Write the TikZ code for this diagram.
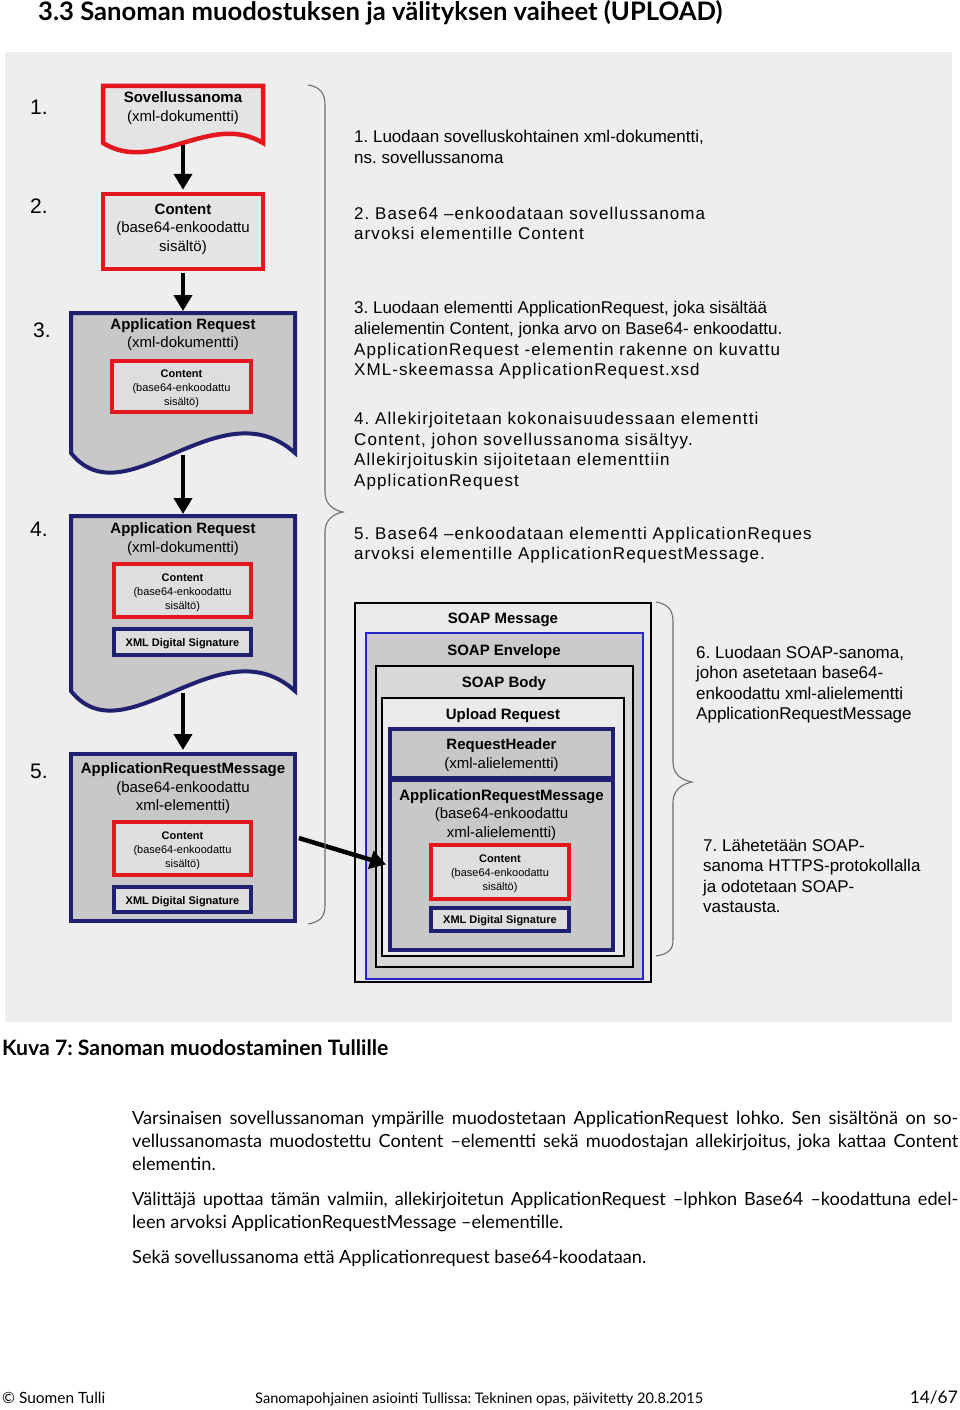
\documentclass[tikz,border=0pt]{standalone}
\usepackage{graphicx}
\usepackage{fontspec}
\setmainfont{Liberation Sans}
\newfontfamily\spaced[LetterSpace=6.3]{Liberation Sans}
\newfontfamily\gill{Lato}
\usetikzlibrary{arrows.meta}
\frenchspacing
\definecolor{myred}{RGB}{228,22,30}
\definecolor{mynavy}{RGB}{32,32,112}
\definecolor{panel}{RGB}{238,238,238}
\definecolor{docfill}{RGB}{228,228,228}
\definecolor{midfill}{RGB}{200,200,200}
\definecolor{innerfill}{RGB}{222,222,222}
\definecolor{bracec}{RGB}{110,110,110}
\definecolor{envblue}{RGB}{40,40,200}
\definecolor{envfill}{RGB}{202,202,202}
\definecolor{bodyfill}{RGB}{216,216,216}
\definecolor{uplfill}{RGB}{234,234,234}
\definecolor{msgfill}{RGB}{234,234,234}
\newcommand\fs[2]{\fontsize{#1}{#2}\selectfont}
\newlength\gillw
\begin{document}
\frenchspacing
\settowidth{\gillw}{\gill\fs{10}{12}Sekä sovellussanoma että Applicationrequest base64-koodataan.}%
\pgfmathsetmacro\gillsize{10*514/\gillw}%
\begin{tikzpicture}[x=1pt,y=-1pt,
  redbox/.style={draw=myred,line width=4.5pt,fill=docfill,inner sep=0pt},
  redinner/.style={draw=myred,line width=4pt,fill=innerfill,inner sep=0pt},
  navydoc/.style={draw=mynavy,line width=4pt,fill=midfill},
  navybox/.style={draw=mynavy,line width=4pt,fill=midfill,inner sep=0pt},
  navysig/.style={draw=mynavy,line width=4pt,fill=innerfill,inner sep=0pt},
  anchorbox/.style={inner sep=0pt,outer sep=0pt},
  flow/.style={line width=4.5pt,-{Triangle[width=18pt,length=16pt]},shorten <=2pt,shorten >=2pt},
  bracepath/.style={draw=bracec,line width=1.1pt},
  big/.style={font=\fs{15}{18.5},align=center,inner sep=0pt},
  small/.style={font=\fs{11}{13.8},align=center,inner sep=0pt},
  num/.style={font=\fs{21}{24},anchor=west,inner sep=0pt},
  desc/.style={font=\fs{17}{20.6},align=left,anchor=west,inner sep=0pt},
  sdesc/.style={desc,font=\spaced\fs{17}{20.6}},
  layer/.style={draw=black,line width=1.2pt,inner sep=0pt},
  para/.style={anchor=base west,inner sep=0pt,font=\gill\fs{\gillsize}{23}},
]
\useasboundingbox (0,0) rectangle (960,1410);
\fill[white] (0,0) rectangle (960,1410);
\fill[panel] (5,52) rectangle (952,1022);

% ---------- left column ----------
\draw[redbox] (103,86) -- (263,86) -- (263,143) .. controls (210,111) and (155,175) .. (103,143) -- cycle;
\node[anchorbox,minimum width=160pt,minimum height=57pt] (b1) at (183,114.5) {};
\node[redbox,minimum width=160pt,minimum height=75pt] (b2) at (183,231.5) {};

\draw[navydoc] (71,313) -- (295,313) -- (295,453) .. controls (220,385) and (125,521) .. (71,453) -- cycle;
\node[anchorbox,minimum width=224pt,minimum height=140pt] (b3) at (183,383) {};
\node[redinner,minimum width=139pt,minimum height=51pt] (c3) at (181.5,386.5) {};

\draw[navydoc] (71,516) -- (295,516) -- (295,691) .. controls (220,623) and (125,759) .. (71,691) -- cycle;
\node[anchorbox,minimum width=224pt,minimum height=175pt] (b4) at (183,603.5) {};
\node[redinner,minimum width=137pt,minimum height=53pt] (c4) at (182.5,590.5) {};
\node[navysig,minimum width=137pt,minimum height=26pt] (s4) at (182.5,642) {};

\node[navybox,minimum width=224pt,minimum height=167pt] (b5) at (183,837.5) {};
\node[redinner,minimum width=137pt,minimum height=53pt] (c5) at (182.5,848.5) {};
\node[navysig,minimum width=137pt,minimum height=25pt] (s5) at (182.5,899.5) {};

% ---------- SOAP message ----------
\node[layer,line width=2.5pt,fill=msgfill,minimum width=296pt,minimum height=379pt] (msg) at (503,792.5) {};
\node[layer,draw=envblue,fill=envfill,minimum width=277pt,minimum height=346pt] (env) at (504.5,806) {};
\node[layer,fill=bodyfill,minimum width=257pt,minimum height=301pt] (body) at (504.5,816.5) {};
\node[layer,fill=uplfill,minimum width=242pt,minimum height=258pt] (upl) at (503,827) {};
\node[navybox,minimum width=223pt,minimum height=49pt] (rh) at (501.5,753.5) {};
\node[navybox,minimum width=223pt,minimum height=170pt] (arm) at (501.5,865) {};
\node[redinner,minimum width=138pt,minimum height=54pt] (c6) at (500,872) {};
\node[navysig,minimum width=138pt,minimum height=23pt] (s6) at (500,919.5) {};

% ---------- connectors ----------
\draw[flow] (b1.south) -- (b2.north);
\draw[flow] (b2.south) -- (b3.north);
\draw[flow] (b3.south) -- (b4.north);
\draw[flow] (b4.south) -- (b5.north);
\draw[flow] (b5.east) -- (arm.west);

% ---------- braces ----------
\draw[bracepath] (308,85) .. controls (320,87) and (325,93) .. (325,105) -- (325,492)
  .. controls (325,504) and (333,510) .. (343,512) .. controls (333,514) and (325,520) .. (325,532)
  -- (325,905) .. controls (325,917) and (320,922) .. (308,924);
\draw[bracepath] (656,602) .. controls (668,604) and (673,610) .. (673,622) -- (673,762)
  .. controls (673,775) and (682,780) .. (692,782) .. controls (682,784) and (673,790) .. (673,802)
  -- (673,940) .. controls (673,950) and (668,954) .. (656,956);

% ---------- box texts ----------
\node[big] (t1) at (183,108) {\textbf{Sovellussanoma}\\(xml-dokumentti)};
\node[big] (t2) at (183,229) {\textbf{Content}\\(base64-enkoodattu\\sisältö)};
\node[big] (t3) at (183,334.5) {\textbf{Application Request}\\(xml-dokumentti)};
\node[small] (ct3) at (181.5,389) {\textbf{Content}\\(base64-enkoodattu\\sisältö)};
\node[big] (t4) at (183,539) {\textbf{Application Request}\\(xml-dokumentti)};
\node[small] (ct4) at (182.5,592.5) {\textbf{Content}\\(base64-enkoodattu\\sisältö)};
\node[small] (st4) at (182.5,643.5) {\textbf{XML Digital Signature}};
\node[big] (t5) at (183,788.5) {\textbf{ApplicationRequestMessage}\\(base64-enkoodattu\\xml-elementti)};
\node[small] (ct5) at (182.5,851) {\textbf{Content}\\(base64-enkoodattu\\sisältö)};
\node[small] (st5) at (182.5,901.5) {\textbf{XML Digital Signature}};

\node[big] (tm) at (503,620) {\textbf{SOAP Message}};
\node[big] (te) at (504,652) {\textbf{SOAP Envelope}};
\node[big] (tb) at (504,684) {\textbf{SOAP Body}};
\node[big] (tu) at (503,716) {\textbf{Upload Request}};
\node[big] (trh) at (501.5,755) {\textbf{RequestHeader}\\(xml-alielementti)};
\node[big] (tarm) at (501.5,815) {\textbf{ApplicationRequestMessage}\\(base64-enkoodattu\\xml-alielementti)};
\node[small] (ct6) at (500,873.5) {\textbf{Content}\\(base64-enkoodattu\\sisältö)};
\node[small] (st6) at (500,921) {\textbf{XML Digital Signature}};

% ---------- step numbers ----------
\node[num] (n1) at (30,107) {1.};
\node[num] (n2) at (30,206) {2.};
\node[num] (n3) at (33,330) {3.};
\node[num] (n4) at (30,529) {4.};
\node[num] (n5) at (30,771) {5.};

% ---------- descriptions ----------
\node[desc] (r1) at (354,147) {1. Luodaan sovelluskohtainen xml-dokumentti,\\ns. sovellussanoma};
\node[sdesc] (r2) at (354,223.5) {2. Base64 –enkoodataan sovellussanoma\\arvoksi elementille Content};
\node[desc] (r3) at (354,340.5) {3. Luodaan elementti ApplicationRequest, joka sisältää\\alielementin Content, jonka arvo on Base64- enkoodattu.\\{\spaced ApplicationRequest -elementin rakenne on kuvattu}\\{\spaced XML-skeemassa ApplicationRequest.xsd}};
\node[sdesc] (r4) at (354,451) {4. Allekirjoitetaan kokonaisuudessaan elementti\\Content, johon sovellussanoma sisältyy.\\Allekirjoituskin sijoitetaan elementtiin\\ApplicationRequest};
\node[sdesc] (r5) at (354,545) {5. Base64 –enkoodataan elementti ApplicationReques\\arvoksi elementille ApplicationRequestMessage.};
\node[desc] (r6) at (696,684.5) {6. Luodaan SOAP-sanoma,\\johon asetetaan base64-\\enkoodattu xml-alielementti\\ApplicationRequestMessage};
\node[desc] (r7) at (703,876) {7. Lähetetään SOAP-\\sanoma HTTPS-protokollalla\\ja odotetaan SOAP-\\vastausta.};

% ---------- page texts ----------
\node[anchor=base west,inner sep=0pt] (title) at (38,21) {\resizebox{684pt}{20pt}{\gill\bfseries 3.3 Sanoman muodostuksen ja välityksen vaiheet (UPLOAD)}};
\node[anchor=base west,inner sep=0pt] (cap) at (2,1055) {\resizebox{386pt}{!}{\gill\bfseries Kuva 7: Sanoman muodostaminen Tullille}};

\node[para] (p1) at (132,1124) {\makebox[826pt][s]{Varsinaisen sovellussanoman ympärille muodostetaan ApplicationRequest lohko. Sen sisältönä on so-}};
\node[para] (p2) at (132,1147) {\makebox[826pt][s]{vellussanomasta muodostettu Content –elementti sekä muodostajan allekirjoitus, joka kattaa Content}};
\node[para] (p3) at (132,1170) {elementin.};
\node[para] (p4) at (132,1205) {\makebox[826pt][s]{Välittäjä upottaa tämän valmiin, allekirjoitetun ApplicationRequest –lphkon Base64 –koodattuna edel-}};
\node[para] (p5) at (132,1228) {leen arvoksi ApplicationRequestMessage –elementille.};
\node[para] (p6) at (132,1263) {Sekä sovellussanoma että Applicationrequest base64-koodataan.};

\node[anchor=base west,inner sep=0pt] (f1) at (2,1403) {\resizebox{103pt}{!}{\gill © Suomen Tulli}};
\node[anchor=base west,inner sep=0pt] (f2) at (255,1403) {\resizebox{448pt}{!}{\gill Sanomapohjainen asiointi Tullissa: Tekninen opas, päivitetty 20.8.2015}};
\node[anchor=base east,inner sep=0pt] (f3) at (958,1403) {\resizebox{48pt}{!}{\gill 14/67}};
\end{tikzpicture}
\end{document}
